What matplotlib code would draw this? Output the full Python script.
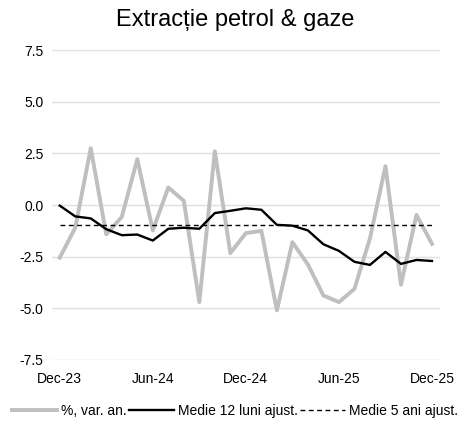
import matplotlib
matplotlib.use("Agg")
import matplotlib.pyplot as plt
import numpy as np

plt.rcParams['font.family'] = ['Liberation Sans', 'DejaVu Sans']

months = ["Dec-23", "Jan-24", "Feb-24", "Mar-24", "Apr-24", "May-24", "Jun-24", "Jul-24",
          "Aug-24", "Sep-24", "Oct-24", "Nov-24", "Dec-24", "Jan-25", "Feb-25", "Mar-25",
          "Apr-25", "May-25", "Jun-25", "Jul-25", "Aug-25", "Sep-25", "Oct-25", "Nov-25", "Dec-25"]
yoy = [-2.55, -1.1, 2.75, -1.42, -0.58, 2.22, -1.23, 0.85, 0.2, -4.7, 2.6, -2.33, -1.36,
       -1.25, -5.1, -1.8, -2.88, -4.38, -4.7, -4.06, -1.62, 1.88, -3.86, -0.48, -1.88]
avg12 = [-0.03, -0.55, -0.65, -1.17, -1.46, -1.43, -1.72, -1.15, -1.1, -1.15, -0.39, -0.28,
         -0.16, -0.23, -0.96, -1.0, -1.23, -1.9, -2.22, -2.75, -2.9, -2.27, -2.85, -2.66, -2.71]
avg5 = [-0.95] * len(months)
tick_labels = ["Dec-23", "Jun-24", "Dec-24", "Jun-25", "Dec-25"]

fig = plt.figure(figsize=(4.70, 4.28), dpi=100)
ax = fig.add_axes([0.1106, 0.159, 0.825, 0.724])
x = np.arange(len(months))
ax.plot(x, yoy, color="#bfbfbf", lw=2.8, label="%, var. an.")
ax.plot(x, avg12, color="black", lw=1.7, label="Medie 12 luni ajust.")
ax.plot(x, avg5, color="black", lw=1.0, ls=(0, (3.5, 2.5)), label="Medie 5 ani ajust.")

ax.set_xlim(-0.5, 24.5)
ax.set_ylim(-7.5, 7.5)
ax.set_yticks([-7.5, -5.0, -2.5, 0.0, 2.5, 5.0, 7.5])
ax.set_yticklabels([f"{v:.1f}" for v in [-7.5, -5.0, -2.5, 0.0, 2.5, 5.0, 7.5]])
pos = [months.index(t) for t in tick_labels]
ax.set_xticks(pos)
ax.set_xticklabels(tick_labels)
ax.grid(axis="y", color="#e0e0e0", lw=1.0)
ax.set_axisbelow(True)
for s in ax.spines.values():
    s.set_visible(False)
ax.tick_params(length=0, labelsize=10, colors="black", pad=6)
ax.tick_params(axis="x", pad=9)

fig.suptitle("Extracție petrol & gaze", fontsize=17, y=0.98)
fig.legend(loc="lower center", bbox_to_anchor=(0.5, -0.005), ncol=3, frameon=False,
           fontsize=10, handlelength=3.2, handletextpad=0.3, columnspacing=0.2)
fig.savefig("out.png", dpi=100)
